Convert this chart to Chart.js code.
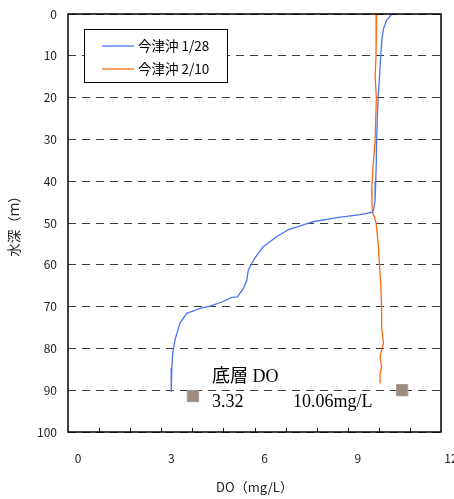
<!DOCTYPE html>
<html>
<head>
<meta charset="utf-8">
<script src="https://cdn.jsdelivr.net/npm/chart.js@4.4.0/dist/chart.umd.min.js"></script>
<style>
  html, body { margin: 0; padding: 0; background: #fff; }
</style>
</head>
<body>
<canvas id="myChart" width="454" height="499"></canvas>
<script>
// 今津沖 DO profile (depth m / DO mg/L)
var seriesLabels = ['今津沖 1/28', '今津沖 2/10'];
var seriesColors = ['#4876f2', '#ff6a12'];

var depth0128 = [0, 1.5, 3.5, 6, 10, 14, 20, 23, 30, 35, 40, 44.6, 46.5, 47.4, 48.0, 48.7, 49.7, 51.2, 51.6, 52.1, 53.3, 55.7, 58.3, 59.7, 61.3, 63.7, 65.7, 67.7, 67.8, 68.9, 69.9, 70.4, 71.6, 74.0, 78.0, 81.2, 84.7, 90.4];
var do0128    = [10.42, 10.25, 10.15, 10.1, 10.06, 10.03, 9.98, 9.96, 9.93, 9.92, 9.9, 9.88, 9.84, 9.80, 9.40, 8.65, 7.89, 7.25, 7.09, 6.98, 6.71, 6.28, 6.02, 5.91, 5.80, 5.75, 5.64, 5.45, 5.27, 4.95, 4.57, 4.25, 3.82, 3.60, 3.44, 3.37, 3.34, 3.32];

var depth0210 = [0, 10, 15, 20, 30, 37, 42, 46, 47.5, 48.6, 50, 55, 60, 64.4, 70, 75, 78.8, 80.4, 82, 84.4, 86, 88.4];
var do0210    = [9.93, 9.91, 9.88, 9.92, 9.88, 9.81, 9.77, 9.78, 9.80, 9.86, 9.91, 9.98, 10.02, 10.06, 10.09, 10.09, 10.15, 10.09, 10.04, 10.09, 10.04, 10.04];

// small grey markers near the bottom layer
var markDO = [4.02, 10.75];
var markDepth = [91.4, 90.0];

var xLabelTicks = [0, 3, 6, 9, 12];

// bottom-layer note
var noteLines = [
  { text: '底層 DO', x: 4.63, y: 86.9 },
  { text: '3.32', x: 4.63, y: 92.8 },
  { text: '10.06mg/L', x: 7.24, y: 92.8 }
];

function toPoints(xs, ys) {
  return xs.map(function (v, i) { return { x: v, y: ys[i] }; });
}

var baseFont = "'Noto Sans CJK JP', 'Liberation Sans', sans-serif";

var framePlugin = {
  id: 'frame',
  afterDraw: function (chart) {
    var ctx = chart.ctx;
    var a = chart.chartArea;
    var xs = chart.scales.x;
    ctx.save();

    // inner tick marks on the x axis
    ctx.strokeStyle = '#000';
    ctx.lineWidth = 1;
    for (var v = 1; v < 12; v++) {
      var px = Math.round(xs.getPixelForValue(v)) + 0.5;
      ctx.beginPath();
      ctx.moveTo(px, a.bottom);
      ctx.lineTo(px, a.bottom - 4);
      ctx.stroke();
    }

    // plot frame
    ctx.lineWidth = 1.5;
    ctx.strokeStyle = '#000';
    ctx.strokeRect(a.left, a.top, a.right - a.left, a.bottom - a.top);

    // legend box
    ctx.fillStyle = '#fff';
    ctx.fillRect(84, 29, 143, 53);
    ctx.lineWidth = 1;
    ctx.strokeStyle = '#000';
    ctx.strokeRect(84.5, 29.5, 143, 53);
    ctx.font = '13.5px ' + baseFont;
    ctx.textBaseline = 'middle';
    ctx.textAlign = 'left';
    for (var i = 0; i < 2; i++) {
      var ds = chart.data.datasets[i];
      var ly = 46 + i * 23;
      ctx.strokeStyle = ds.borderColor;
      ctx.lineWidth = 1.3;
      ctx.beginPath();
      ctx.moveTo(102, ly);
      ctx.lineTo(134, ly);
      ctx.stroke();
      ctx.fillStyle = '#000';
      ctx.fillText(ds.label, 138, ly);
    }

    // note text
    var ys = chart.scales.y;
    ctx.font = "18px 'Liberation Serif', 'Noto Sans CJK JP', serif";
    ctx.fillStyle = '#000';
    noteLines.forEach(function (n) {
      ctx.fillText(n.text, xs.getPixelForValue(n.x), ys.getPixelForValue(n.y));
    });
    ctx.restore();
  }
};

var ctx = document.getElementById('myChart').getContext('2d');
var myChart = new Chart(ctx, {
  type: 'scatter',
  data: {
    datasets: [
      {
        label: seriesLabels[0],
        data: toPoints(do0128, depth0128),
        showLine: true,
        borderColor: seriesColors[0],
        backgroundColor: seriesColors[0],
        borderWidth: 1.3,
        pointRadius: 0,
        tension: 0
      },
      {
        label: seriesLabels[1],
        data: toPoints(do0210, depth0210),
        showLine: true,
        borderColor: seriesColors[1],
        backgroundColor: seriesColors[1],
        borderWidth: 1.3,
        pointRadius: 0,
        tension: 0
      },
      {
        label: 'marks',
        data: toPoints(markDO, markDepth),
        showLine: false,
        pointStyle: 'rect',
        pointRadius: 8,
        backgroundColor: '#9c8d82',
        borderColor: '#a89a8f',
        borderWidth: 1
      }
    ]
  },
  options: {
    responsive: false,
    animation: false,
    layout: { padding: { left: 0, right: 13, top: 14, bottom: 0 } },
    plugins: {
      legend: { display: false },
      tooltip: { enabled: false }
    },
    scales: {
      x: {
        type: 'linear',
        position: 'bottom',
        min: 0,
        max: 12,
        afterFit: function (s) {
          s.height = 67;
          s.paddingLeft = 0;
          s.paddingRight = 0;
        },
        afterBuildTicks: function (s) {
          s.ticks = [];
          for (var v = 0; v <= 12; v++) s.ticks.push({ value: v });
        },
        ticks: {
          autoSkip: false,
          maxRotation: 0,
          labelOffset: 10,
          padding: 19,
          color: '#222',
          font: { family: baseFont, size: 12 },
          callback: function (v) { return xLabelTicks.indexOf(v) >= 0 ? String(v) : ''; }
        },
        grid: { display: false, drawTicks: false },
        border: { display: false },
        title: {
          display: true,
          text: 'DO（mg/L）',
          color: '#222',
          font: { family: baseFont, size: 13 },
          padding: { top: 0, bottom: 4 }
        }
      },
      y: {
        type: 'linear',
        reverse: true,
        min: 0,
        max: 100,
        afterFit: function (s) {
          s.width = 68;
          s.paddingTop = 0;
          s.paddingBottom = 0;
        },
        ticks: {
          stepSize: 10,
          padding: 11,
          color: '#222',
          font: { family: baseFont, size: 12 }
        },
        grid: { color: '#3a3a3a', lineWidth: 1, drawTicks: false },
        border: { display: false, dash: [8, 6] },
        title: {
          display: true,
          text: '水深（ｍ）',
          color: '#222',
          font: { family: baseFont, size: 13.5 },
          padding: { top: 6, bottom: 0 }
        }
      }
    }
  },
  plugins: [framePlugin]
});
</script>
</body>
</html>
